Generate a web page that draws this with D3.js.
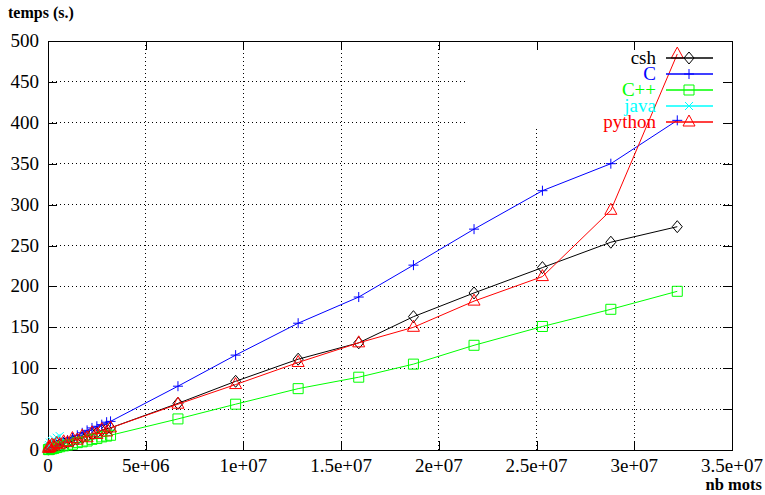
<!DOCTYPE html>
<html>
<head>
<meta charset="utf-8">
<script src="https://cdn.jsdelivr.net/npm/d3@7"></script>
<style>
  body { margin: 0; background: white; }
</style>
</head>
<body>
<div class="chart"></div>
<script>
// nb mots (shared x for every series)
var nbMots = [2e4, 5e4, 1e5, 2e5, 3e5, 4.5e5, 6e5, 8e5, 1.0e6, 1.25e6, 1.5e6, 1.75e6, 2.0e6, 2.25e6,
              2.5e6, 2.75e6, 3.0e6, 3.2e6, 6.65e6, 9.6e6, 1.28e7, 1.59e7, 1.87e7, 2.18e7, 2.53e7, 2.88e7, 3.22e7]

var cshTimes    = [1, 1.5, 2, 3, 4, 5, 6, 8, 9, 11, 13, 15, 17, 19, 21, 24, 26, 27, 57, 84, 111, 131, 163, 192, 223, 254, 273]
var cTimes      = [0.5, 1, 1.5, 3, 4, 6, 8, 10, 12, 15, 18, 21, 24, 27, 29, 31, 34, 35, 78, 116, 155, 187, 226, 270, 317, 350, 403]
var cppTimes    = [0.5, 0.5, 1, 1.5, 2, 3, 4, 5, 6, 7, 9, 10, 11, 13, 14, 16, 17, 18, 38, 56, 75, 89, 105, 128, 151, 172, 194]
var javaTimes   = [4, 6, 9, 11, 13, 15, 17]
var pythonTimes = [2, 4, 3, 6, 5, 8, 7, 10, 9, 14, 12, 17, 15, 21, 19, 25, 22, 27, 56, 80, 107, 131, 150, 182, 212, 293, 484]

var seriesNames  = ['csh', 'C', 'C++', 'java', 'python']
var seriesColors = ['#000000', '#0000ff', '#00ff00', '#00ffff', '#ff0000']
var seriesMarks  = ['diamond', 'plus', 'square', 'cross', 'triangle']
var seriesValues = [cshTimes, cTimes, cppTimes, javaTimes, pythonTimes]

var xTicks = [0, 5e6, 1e7, 1.5e7, 2e7, 2.5e7, 3e7, 3.5e7]
var xTickLabels = ['0', '5e+06', '1e+07', '1.5e+07', '2e+07', '2.5e+07', '3e+07', '3.5e+07']
var yTicks = [0, 50, 100, 150, 200, 250, 300, 350, 400, 450, 500]

var serif = "'Liberation Serif', 'DejaVu Serif', Times, serif"

let margin = {top: 41, right: 33, bottom: 45, left: 48},
    width = 765,
    height = 495

let x = d3.scaleLinear()
    .domain([0, 3.5e7])
    .range([margin.left, width - margin.right])

let y = d3.scaleLinear()
    .domain([0, 500])
    .range([height - margin.bottom, margin.top])

var svg = d3.select('.chart').append('svg')
    .attr('width', width)
    .attr('height', height)
    .attr('font-family', serif)
    .style('font-family', serif)

// grid (dotted)
var grid = svg.append('g').attr('class', 'grid')
grid.selectAll('.gx')
    .data(xTicks.slice(1, -1))
    .enter().append('line')
    .attr('x1', d => x(d)).attr('x2', d => x(d))
    .attr('y1', y(0)).attr('y2', y(500))
grid.selectAll('.gy')
    .data(yTicks.slice(1, -1))
    .enter().append('line')
    .attr('x1', x(0)).attr('x2', x(3.5e7))
    .attr('y1', d => y(d)).attr('y2', d => y(d))
grid.selectAll('line')
    .attr('stroke', '#000')
    .attr('stroke-width', 1)
    .attr('stroke-dasharray', '1,3')
    .attr('shape-rendering', 'crispEdges')

// key background blanks the grid
svg.append('rect')
    .attr('x', 465).attr('y', y(500))
    .attr('width', x(3.5e7) - 465).attr('height', 128 - y(500))
    .attr('fill', 'white')

// axes with inward ticks on all four sides
let xAxisB = d3.axisTop(x).tickValues(xTicks).tickSize(9).tickFormat('')
let xAxisT = d3.axisBottom(x).tickValues(xTicks).tickSize(9).tickFormat('')
let yAxisL = d3.axisRight(y).tickValues(yTicks).tickSize(9).tickFormat('')
let yAxisR = d3.axisLeft(y).tickValues(yTicks).tickSize(9).tickFormat('')

svg.append('g').attr('transform', 'translate(0,' + y(0) + ')').call(xAxisB)
svg.append('g').attr('transform', 'translate(0,' + y(500) + ')').call(xAxisT)
svg.append('g').attr('transform', 'translate(' + x(0) + ',0)').call(yAxisL)
svg.append('g').attr('transform', 'translate(' + x(3.5e7) + ',0)').call(yAxisR)
svg.selectAll('.domain').remove()
svg.selectAll('.tick line').attr('stroke', '#000').attr('shape-rendering', 'crispEdges')

svg.append('rect')
    .attr('x', x(0)).attr('y', y(500))
    .attr('width', x(3.5e7) - x(0)).attr('height', y(0) - y(500))
    .attr('fill', 'none').attr('stroke', '#000')
    .attr('shape-rendering', 'crispEdges')

// tick labels
svg.selectAll('.xlab')
    .data(xTicks)
    .enter().append('text')
    .attr('x', d => x(d)).attr('y', 472)
    .attr('text-anchor', 'middle')
    .attr('font-size', 19)
    .text((d, i) => xTickLabels[i])

svg.selectAll('.ylab')
    .data(yTicks)
    .enter().append('text')
    .attr('x', 39).attr('y', d => y(d) + 6)
    .attr('text-anchor', 'end')
    .attr('font-size', 19)
    .text(d => d)

svg.append('text')
    .attr('x', 8).attr('y', 18)
    .attr('font-size', 16).attr('font-weight', 'bold')
    .text('temps (s.)')

svg.append('text')
    .attr('x', 762).attr('y', 490)
    .attr('text-anchor', 'end')
    .attr('font-size', 16.5).attr('font-weight', 'bold')
    .text('nb mots')

// marker shapes
function markPath(kind) {
    if (kind == 'diamond') return 'M0,-6L5,0L0,6L-5,0Z'
    if (kind == 'plus') return 'M-5,0H5M0,-5V5'
    if (kind == 'square') return 'M-5,-5H5V5H-5Z'
    if (kind == 'cross') return 'M-4,-4L4,4M-4,4L4,-4'
    return 'M0,-7L6,4H-6Z'
}

let line = d3.line()
    .x(d => x(d[0]))
    .y(d => y(d[1]))

seriesValues.forEach(function(vals, i) {
    var pts = vals.map((v, j) => [nbMots[j], v])
    var g = svg.append('g').attr('class', 'serie s' + i)
    g.append('path')
        .attr('d', line(pts))
        .attr('fill', 'none')
        .attr('stroke', seriesColors[i])
        .attr('stroke-width', 1)
    g.selectAll('.mark')
        .data(pts)
        .enter().append('path')
        .attr('transform', d => 'translate(' + x(d[0]) + ',' + y(d[1]) + ')')
        .attr('d', markPath(seriesMarks[i]))
        .attr('fill', 'none')
        .attr('stroke', seriesColors[i])
        .attr('stroke-width', 1)
})

// key
var key = svg.append('g').attr('class', 'key')
seriesNames.forEach(function(name, i) {
    var ky = 58 + i * 16
    key.append('text')
        .attr('x', 656).attr('y', ky + 6)
        .attr('text-anchor', 'end')
        .attr('font-size', 19)
        .attr('fill', seriesColors[i])
        .text(name)
    key.append('line')
        .attr('x1', 666).attr('x2', 713)
        .attr('y1', ky).attr('y2', ky)
        .attr('stroke', seriesColors[i])
        .attr('stroke-width', 1.5)
    key.append('path')
        .attr('transform', 'translate(689,' + ky + ')')
        .attr('d', markPath(seriesMarks[i]))
        .attr('fill', 'none')
        .attr('stroke', seriesColors[i])
})
</script>
</body>
</html>
